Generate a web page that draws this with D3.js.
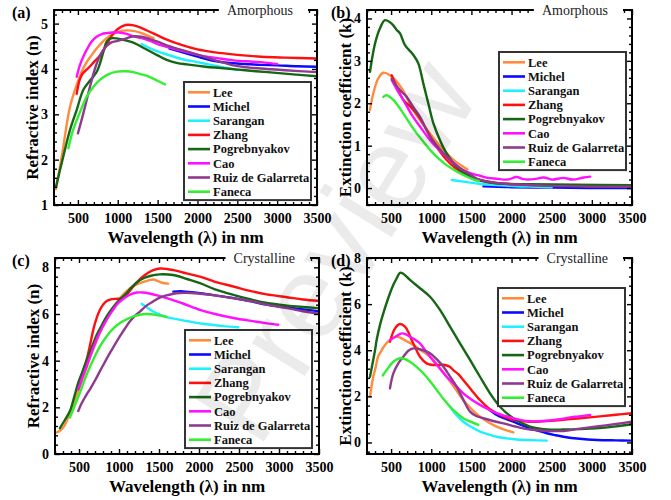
<!DOCTYPE html>
<html><head><meta charset="utf-8">
<script src="https://cdn.jsdelivr.net/npm/d3@7"></script>
<style>body{margin:0;background:#fff}svg{display:block}</style>
</head><body>
<svg id="chart" width="671" height="500"></svg>
<script>
// ---- data: [wavelength (nm), value] ----
const seriesNames = ["Lee", "Michel", "Sarangan", "Zhang", "Pogrebnyakov", "Cao", "Ruiz de Galarreta", "Faneca"];
const seriesColors = ["#ff8c3c", "#0a0aff", "#1ff0ff", "#ff1010", "#156615", "#ff10ff", "#8e3b8e", "#33ee33"];
const xTicks = [500, 1000, 1500, 2000, 2500, 3000, 3500];

// (a) refractive index, amorphous
const aLee = [[225,1.35],[300,2.1],[400,3.16],[485,3.65],[550,3.95],[610,4.15],[670,4.3],[735,4.45],[800,4.58],[861,4.68],[940,4.77],[1028,4.83],[1110,4.85],[1195,4.84],[1300,4.79],[1380,4.73],[1450,4.68]];
const aMichel = [[1650,4.45],[1750,4.4],[1900,4.32],[2000,4.27],[2200,4.18],[2400,4.13],[2600,4.11],[2800,4.09],[3000,4.08],[3250,4.06],[3500,4.05]];
const aSarangan = [[1300,4.55],[1400,4.46],[1500,4.39],[1600,4.33],[1800,4.22],[2000,4.15],[2200,4.08],[2350,4.03],[2500,3.98]];
const aZhang = [[485,3.45],[520,3.75],[560,3.9],[620,4.0],[700,4.15],[780,4.3],[850,4.5],[920,4.72],[1000,4.88],[1100,4.97],[1200,4.96],[1300,4.9],[1400,4.82],[1500,4.74],[1600,4.66],[1800,4.53],[2000,4.43],[2200,4.37],[2500,4.31],[2800,4.27],[3100,4.25],[3500,4.23]];
const aPogrebnyakov = [[225,1.4],[300,1.95],[400,2.65],[485,3.1],[568,3.54],[640,3.72],[693,3.83],[740,3.95],[777,4.12],[820,4.38],[861,4.6],[900,4.67],[944,4.68],[1050,4.65],[1195,4.58],[1350,4.44],[1500,4.3],[1614,4.2],[1750,4.13],[1866,4.1],[2100,4.05],[2290,4.02],[2600,3.97],[2880,3.93],[3200,3.88],[3500,3.84]];
const aCao = [[485,3.83],[526,4.09],[570,4.28],[610,4.42],[670,4.6],[735,4.71],[800,4.77],[861,4.79],[987,4.81],[1100,4.78],[1200,4.72],[1300,4.68],[1405,4.62],[1500,4.55],[1614,4.49],[1800,4.4],[2030,4.3],[2250,4.24],[2450,4.19],[2700,4.16],[2850,4.14],[3000,4.11]];
const aRuiz = [[500,2.58],[568,3.02],[652,3.61],[736,4.12],[819,4.42],[903,4.57],[1000,4.62],[1100,4.67],[1195,4.72],[1300,4.71],[1405,4.66],[1500,4.6],[1614,4.52],[1800,4.42],[2030,4.3],[2250,4.18],[2450,4.08],[2650,4.03],[2870,4.0],[3100,3.97],[3500,3.93]];
const aFaneca = [[380,2.25],[430,2.6],[485,2.87],[550,3.15],[610,3.39],[700,3.62],[777,3.76],[880,3.88],[987,3.94],[1100,3.95],[1195,3.93],[1300,3.88],[1405,3.82],[1500,3.74],[1593,3.66]];

// (b) extinction coefficient, amorphous
const bLee = [[237,1.84],[278,2.23],[341,2.59],[403,2.72],[486,2.66],[570,2.51],[680,2.2],[777,1.84],[880,1.55],[985,1.29],[1090,1.03],[1192,0.82],[1300,0.63],[1399,0.5],[1450,0.44]];
const bMichel = [[1650,0.04],[2000,0.02],[2500,0.01],[3000,0.0],[3500,0.0]];
const bSarangan = [[1255,0.19],[1399,0.15],[1600,0.1],[1815,0.07],[2064,0.04],[2300,0.03],[2500,0.02]];
const bZhang = [[507,2.66],[570,2.39],[652,2.08],[735,1.93],[819,1.76],[943,1.37],[1068,0.97],[1192,0.66],[1300,0.47],[1399,0.35],[1500,0.26],[1607,0.19],[1800,0.12],[2000,0.09],[2230,0.07],[2800,0.05],[3500,0.03]];
const bPogrebnyakov = [[237,2.74],[300,3.41],[362,3.77],[424,3.96],[507,3.88],[570,3.73],[611,3.65],[673,3.37],[777,3.14],[839,2.94],[901,2.47],[963,2.0],[1026,1.53],[1109,1.13],[1192,0.82],[1317,0.5],[1483,0.27],[1650,0.16],[1815,0.11],[2230,0.09],[2800,0.08],[3500,0.07]];
const bCao = [[507,2.55],[580,2.3],[652,2.08],[760,1.72],[860,1.45],[985,1.13],[1090,0.92],[1192,0.74],[1300,0.56],[1399,0.42],[1524,0.33],[1607,0.29],[1700,0.24],[1815,0.22],[1950,0.2],[2064,0.26],[2150,0.21],[2280,0.21],[2400,0.25],[2500,0.2],[2650,0.24],[2760,0.2],[2900,0.25],[2980,0.27]];
const bRuiz = [[507,2.58],[600,2.33],[694,2.15],[780,1.9],[860,1.68],[985,1.21],[1090,0.95],[1192,0.74],[1300,0.55],[1399,0.42],[1500,0.3],[1607,0.19],[1815,0.12],[2230,0.07],[2800,0.04],[3500,0.03]];
const bFaneca = [[403,2.15],[445,2.19],[528,2.08],[652,1.76],[735,1.52],[819,1.29],[900,1.1],[985,0.9],[1090,0.7],[1192,0.54],[1300,0.41],[1399,0.31],[1500,0.22],[1593,0.16]];

// (c) refractive index, crystalline
const cLee = [[221,0.92],[260,1.0],[304,1.14],[350,1.45],[387,1.78],[450,2.35],[512,2.9],[575,3.5],[637,4.12],[700,4.68],[762,5.2],[825,5.65],[887,6.04],[950,6.38],[1012,6.68],[1075,6.92],[1137,7.11],[1200,7.24],[1262,7.32],[1350,7.42],[1429,7.48],[1480,7.42],[1540,7.34],[1616,7.3]];
const cMichel = [[1679,6.96],[1800,6.97],[2012,6.89],[2200,6.8],[2429,6.68],[2650,6.54],[2846,6.4],[3100,6.28],[3300,6.2],[3500,6.12]];
const cSarangan = [[1283,6.44],[1350,6.28],[1429,6.11],[1510,5.98],[1596,5.87],[1720,5.78],[1846,5.7],[1970,5.62],[2096,5.56],[2300,5.48],[2491,5.43]];
const cZhang = [[491,2.77],[540,3.4],[596,4.05],[640,4.7],[679,5.33],[720,5.82],[762,6.18],[805,6.42],[846,6.56],[900,6.63],[960,6.65],[1012,6.66],[1050,6.72],[1096,6.84],[1179,7.18],[1250,7.45],[1304,7.62],[1370,7.78],[1429,7.88],[1512,7.95],[1600,7.93],[1679,7.88],[1800,7.78],[2012,7.6],[2200,7.38],[2429,7.18],[2650,6.98],[2846,6.84],[3100,6.72],[3300,6.62],[3500,6.56]];
const cPogrebnyakov = [[262,1.11],[330,1.5],[387,1.84],[440,2.45],[491,3.06],[545,3.55],[596,4.02],[660,4.58],[721,5.1],[785,5.52],[846,5.9],[910,6.22],[971,6.47],[1035,6.7],[1096,6.9],[1160,7.15],[1221,7.35],[1300,7.52],[1387,7.63],[1512,7.7],[1620,7.69],[1721,7.64],[1850,7.5],[2012,7.32],[2200,7.06],[2429,6.82],[2650,6.62],[2846,6.47],[3100,6.36],[3300,6.3],[3500,6.25]];
const cCao = [[491,2.77],[545,3.3],[596,3.77],[660,4.38],[721,4.92],[785,5.38],[846,5.76],[910,6.1],[971,6.4],[1035,6.6],[1096,6.75],[1160,6.86],[1221,6.92],[1300,6.92],[1380,6.88],[1500,6.78],[1596,6.68],[1800,6.45],[2012,6.18],[2200,6.0],[2429,5.83],[2700,5.68],[2850,5.6],[2992,5.54]];
const cRuiz = [[491,1.84],[530,2.15],[596,2.56],[637,2.77],[700,3.15],[762,3.55],[825,3.95],[887,4.33],[950,4.7],[1012,5.05],[1075,5.38],[1137,5.69],[1200,5.92],[1262,6.1],[1340,6.35],[1429,6.54],[1510,6.7],[1596,6.8],[1680,6.87],[1762,6.9],[1900,6.9],[2012,6.87],[2200,6.8],[2429,6.68],[2650,6.55],[2846,6.4],[3100,6.25],[3300,6.12],[3500,6.01]];
const cFaneca = [[387,1.56],[450,2.1],[512,2.63],[596,3.4],[679,4.05],[760,4.6],[846,5.05],[930,5.38],[1012,5.61],[1100,5.78],[1179,5.9],[1260,5.97],[1346,6.0],[1430,5.98],[1512,5.93],[1596,5.87]];

// (d) extinction coefficient, crystalline
const dLee = [[237,1.99],[278,2.85],[300,3.14],[341,3.75],[362,3.87],[424,4.23],[486,4.44],[570,4.59],[611,4.55],[690,4.4],[777,4.23],[880,3.98],[985,3.72],[1090,3.3],[1192,2.85],[1300,2.33],[1399,1.84],[1500,1.45],[1607,1.12],[1710,0.88],[1815,0.69],[1920,0.55],[2022,0.44]];
const dMichel = [[1670,1.55],[1750,1.35],[1815,1.19],[1920,1.03],[2022,0.9],[2130,0.75],[2230,0.62],[2340,0.5],[2438,0.4],[2540,0.32],[2645,0.25],[2850,0.16],[3061,0.11],[3300,0.09],[3496,0.08]];
const dSarangan = [[1234,1.55],[1300,1.25],[1399,0.9],[1500,0.67],[1607,0.47],[1710,0.35],[1815,0.25],[1940,0.18],[2064,0.13],[2250,0.1],[2438,0.08]];
const dZhang = [[486,4.37],[549,4.95],[611,5.14],[673,5.02],[720,4.75],[756,4.44],[810,4.05],[860,3.72],[943,3.43],[1000,3.37],[1068,3.36],[1130,3.37],[1171,3.36],[1230,3.28],[1275,3.14],[1340,2.95],[1399,2.71],[1500,2.28],[1607,1.84],[1710,1.5],[1815,1.27],[1920,1.1],[2022,0.98],[2130,0.93],[2230,0.9],[2438,0.93],[2645,0.98],[2853,1.05],[3100,1.13],[3300,1.2],[3496,1.27]];
const dPogrebnyakov = [[237,2.85],[300,4.0],[320,4.44],[362,5.1],[403,5.6],[486,6.47],[530,6.85],[570,7.12],[611,7.36],[650,7.32],[735,7.05],[860,6.69],[985,6.32],[1109,5.75],[1234,5.02],[1358,4.3],[1483,3.58],[1607,2.85],[1732,2.13],[1856,1.55],[2022,1.05],[2230,0.69],[2438,0.57],[2645,0.56],[2853,0.58],[3100,0.63],[3300,0.7],[3496,0.79]];
const dCao = [[486,4.44],[570,4.62],[632,4.73],[690,4.68],[735,4.59],[800,4.45],[860,4.3],[920,4.02],[985,3.72],[1090,3.28],[1192,2.85],[1300,2.48],[1399,2.13],[1500,1.86],[1607,1.63],[1710,1.44],[1815,1.27],[1920,1.15],[2022,1.05],[2130,0.96],[2230,0.92],[2340,0.92],[2438,0.94],[2540,0.98],[2645,1.03],[2750,1.1],[2812,1.12],[2900,1.15],[2978,1.19]];
const dRuiz = [[486,2.35],[528,3.0],[590,3.43],[652,3.72],[715,3.98],[777,4.08],[880,4.02],[985,3.87],[1070,3.6],[1150,3.29],[1230,2.88],[1316,2.42],[1400,1.85],[1483,1.34],[1560,1.15],[1649,1.05],[1770,0.93],[1898,0.83],[2060,0.68],[2230,0.56],[2438,0.5],[2645,0.5],[2850,0.6],[3061,0.69],[3300,0.8],[3496,0.9]];
const dFaneca = [[395,2.9],[445,3.14],[528,3.5],[611,3.65],[670,3.62],[735,3.5],[820,3.27],[901,3.0],[985,2.65],[1068,2.28],[1150,1.9],[1234,1.55],[1316,1.28],[1399,1.05],[1490,0.9],[1586,0.76]];

// ---- panel layout ----
const panels = [
  { tag: "(a)", phase: "Amorphous", yTitle: "Refractive index (n)",
    box: { l: 54, r: 317, t: 10, b: 205 }, yDomain: [1, 5.3], yMajor: [1, 2, 3, 4, 5], yMinor: 0.2,
    legend: { x: 184, y: 82 },
    series: [aLee, aMichel, aSarangan, aZhang, aPogrebnyakov, aCao, aRuiz, aFaneca] },
  { tag: "(b)", phase: "Amorphous", yTitle: "Extinction coefficient (k)",
    box: { l: 367, r: 632, t: 10, b: 205 }, yDomain: [-0.4, 4.2], yMajor: [0, 1, 2, 3, 4], yMinor: 0.2,
    legend: { x: 499, y: 52 },
    series: [bLee, bMichel, bSarangan, bZhang, bPogrebnyakov, bCao, bRuiz, bFaneca] },
  { tag: "(c)", phase: "Crystalline", yTitle: "Refractive index (n)",
    box: { l: 55, r: 319, t: 258, b: 454 }, yDomain: [0, 8.4], yMajor: [0, 2, 4, 6, 8], yMinor: 0.4,
    legend: { x: 185, y: 330 },
    series: [cLee, cMichel, cSarangan, cZhang, cPogrebnyakov, cCao, cRuiz, cFaneca] },
  { tag: "(d)", phase: "Crystalline", yTitle: "Extinction coefficient (k)",
    box: { l: 367, r: 632, t: 258, b: 454 }, yDomain: [-0.5, 8], yMajor: [0, 2, 4, 6, 8], yMinor: 0.4,
    legend: { x: 498, y: 288 },
    series: [dLee, dMichel, dSarangan, dZhang, dPogrebnyakov, dCao, dRuiz, dFaneca] }
];

const SERIF = "'Liberation Serif', 'Times New Roman', serif";
const svg = d3.select("#chart");

panels.forEach((p, pi) => {
  const { l, r, t, b } = p.box;
  const x = d3.scaleLinear().domain([200, 3500]).range([l, r]);
  const y = d3.scaleLinear().domain(p.yDomain).range([b, t]);
  const g = svg.append("g");

  const clipId = "clip" + pi;
  svg.append("clipPath").attr("id", clipId)
    .append("rect").attr("x", l).attr("y", t).attr("width", r - l).attr("height", b - t);

  // curves
  const line = d3.line().x(d => x(d[0])).y(d => y(d[1])).curve(d3.curveCatmullRom.alpha(0.5));
  const curves = g.append("g").attr("clip-path", `url(#${clipId})`);
  p.series.forEach((s, i) => {
    curves.append("path").datum(s)
      .attr("d", line)
      .attr("fill", "none")
      .attr("stroke", seriesColors[i])
      .attr("stroke-width", 2.4)
      .attr("stroke-linejoin", "round")
      .attr("stroke-linecap", "round");
  });

  // minor tick values
  const xMinor = d3.range(200, 3501, 100).filter(v => v % 500 !== 0);
  const yMinorVals = d3.range(Math.ceil(p.yDomain[0] / p.yMinor), Math.floor(p.yDomain[1] / p.yMinor) + 1)
    .map(k => +(k * p.yMinor).toFixed(3))
    .filter(v => !p.yMajor.some(m => Math.abs(m - v) < 1e-6));

  const styleAxis = sel => {
    sel.select(".domain").remove();
    sel.selectAll(".tick line").attr("stroke", "#000").attr("stroke-width", 1.4);
    sel.selectAll(".tick text")
      .attr("font-family", SERIF).attr("font-weight", "bold")
      .attr("font-size", 14).attr("fill", "#000");
  };

  // bottom axis (labelled) and top mirror
  g.append("g").attr("transform", `translate(0,${b})`)
    .call(d3.axisBottom(x).tickValues(xTicks).tickSize(-5).tickPadding(8).tickFormat(d3.format("d")))
    .call(styleAxis);
  g.append("g").attr("transform", `translate(0,${b})`)
    .call(d3.axisBottom(x).tickValues(xMinor).tickSize(-3).tickFormat(""))
    .call(styleAxis);
  g.append("g").attr("transform", `translate(0,${t})`)
    .call(d3.axisTop(x).tickValues(xTicks).tickSize(-5).tickFormat(""))
    .call(styleAxis);
  g.append("g").attr("transform", `translate(0,${t})`)
    .call(d3.axisTop(x).tickValues(xMinor).tickSize(-3).tickFormat(""))
    .call(styleAxis);

  // left axis (labelled) and right mirror
  g.append("g").attr("transform", `translate(${l},0)`)
    .call(d3.axisLeft(y).tickValues(p.yMajor).tickSize(-5).tickPadding(6).tickFormat(d3.format("d")))
    .call(styleAxis);
  g.append("g").attr("transform", `translate(${l},0)`)
    .call(d3.axisLeft(y).tickValues(yMinorVals).tickSize(-3).tickFormat(""))
    .call(styleAxis);
  g.append("g").attr("transform", `translate(${r},0)`)
    .call(d3.axisRight(y).tickValues(p.yMajor).tickSize(-5).tickFormat(""))
    .call(styleAxis);
  g.append("g").attr("transform", `translate(${r},0)`)
    .call(d3.axisRight(y).tickValues(yMinorVals).tickSize(-3).tickFormat(""))
    .call(styleAxis);

  // frame
  g.append("rect").attr("x", l).attr("y", t).attr("width", r - l).attr("height", b - t)
    .attr("fill", "none").attr("stroke", "#000").attr("stroke-width", 2);

  // phase caption sitting in a gap of the top border
  const gap = g.append("rect").attr("fill", "#fff");
  const cap = g.append("text")
    .attr("x", r - 24).attr("y", t + 4.5)
    .attr("text-anchor", "end")
    .attr("font-family", SERIF).attr("font-size", 14).attr("fill", "#222")
    .text(p.phase);
  const cw = cap.node().getComputedTextLength();
  gap.attr("x", r - 24 - cw - 8).attr("y", t - 6)
    .attr("width", cw + 8 + 15).attr("height", 14);

  // axis titles
  g.append("text")
    .attr("x", (l + r) / 2).attr("y", b + 38)
    .attr("text-anchor", "middle")
    .attr("font-family", SERIF).attr("font-weight", "bold").attr("font-size", 17)
    .text("Wavelength (\u03bb) in nm");
  g.append("text")
    .attr("transform", `translate(${l - 16},${(t + b) / 2}) rotate(-90)`)
    .attr("text-anchor", "middle")
    .attr("font-family", SERIF).attr("font-weight", "bold").attr("font-size", 17)
    .text(p.yTitle);

  // panel tag
  g.append("text")
    .attr("x", pi % 2 === 0 ? 12 : 331).attr("y", t + 8)
    .attr("font-family", SERIF).attr("font-weight", "bold").attr("font-size", 16)
    .text(p.tag);

  // legend
  const lg = g.append("g").attr("transform", `translate(${p.legend.x},${p.legend.y})`);
  const rowH = 14.2;
  lg.append("rect").attr("width", 127).attr("height", 8 * rowH + 4.5)
    .attr("fill", "#fff").attr("stroke", "#333").attr("stroke-width", 2);
  seriesNames.forEach((name, i) => {
    const cy = 10.3 + i * rowH;
    lg.append("line").attr("x1", 4).attr("x2", 26).attr("y1", cy).attr("y2", cy)
      .attr("stroke", seriesColors[i]).attr("stroke-width", 2.6);
    lg.append("text").attr("x", 29).attr("y", cy + 4.3)
      .attr("font-family", SERIF).attr("font-weight", "bold").attr("font-size", 12.5)
      .attr("fill", "#111")
      .text(name);
  });
});

// faint diagonal watermark across the figure
svg.append("text")
  .attr("transform", "translate(335,250) rotate(-58)")
  .attr("text-anchor", "middle").attr("dy", "0.35em")
  .attr("font-family", "'Liberation Sans', Arial, sans-serif")
  .attr("font-size", 118)
  .attr("fill", "#000").attr("fill-opacity", 0.08)
  .style("pointer-events", "none")
  .text("Preview");
</script>
</body></html>
